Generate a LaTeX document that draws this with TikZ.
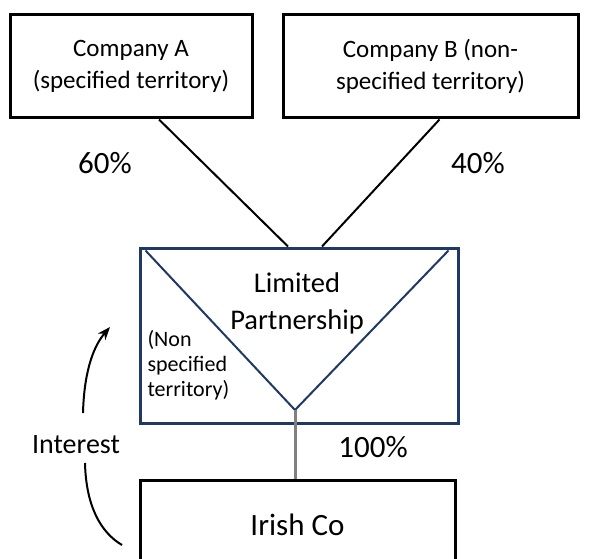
\documentclass[tikz,border=0pt]{standalone}
\usepackage{fontspec}
\setmainfont{Carlito}
\usetikzlibrary{arrows.meta}
\definecolor{lpnavy}{RGB}{31,56,100}
\begin{document}
\begin{tikzpicture}[x=1pt, y=-1pt,
    company/.style={draw=black, line width=3pt, align=center,
        font=\fontsize{25}{32}\selectfont, inner sep=0pt},
    pct/.style={font=\fontsize{31}{34}\selectfont},
    link/.style={draw=black, line width=2pt}]
                \useasboundingbox (0,0) rectangle (589,559);

                % Draw boxes
                \node[company, minimum width=242pt, minimum height=103pt] (compA) at (131,66.5)
                    {Company A\\(specified territory)};
                \node[company, minimum width=295pt, minimum height=103pt] (compB) at (430.5,66.5)
                    {Company B (non-\\specified territory)};
                \node[company, draw=lpnavy, minimum width=318pt, minimum height=175pt] (lp) at (299,335.5) {};
                \node[company, font=\fontsize{31}{34}\selectfont, minimum width=315pt, minimum height=88pt,
                    anchor=north] (irish) at (297.5,479) {Irish Co};

                % Triangle inside the partnership
                \coordinate (tl) at ([shift={(7,4)}]lp.north west);
                \coordinate (tr) at ([shift={(-11,4)}]lp.north east);
                \coordinate (tv) at (295,410);
                \draw[lpnavy, line width=2pt] (tl) -- (tv) -- (tr);

                % Ownership lines
                \draw[link] ([xshift=28pt]compA.south) -- ([xshift=-11pt]lp.north);
                \draw[link] ([xshift=9pt]compB.south) -- ([xshift=23pt]lp.north);
                \draw[gray, line width=3pt] (tv) -- (tv |- irish.north);

                % Texts
                \node[align=center, font=\fontsize{28.5}{37}\selectfont] (lptext) at (297,303)
                    {Limited\\Partnership};
                \node[align=left, anchor=west, font=\fontsize{22}{25}\selectfont] (nonspec) at (144,365)
                    {(Non\\specified\\territory)};
                \node[pct] (pctA) at (105,163) {60\%};
                \node[pct] (pctB) at (478,163) {40\%};
                \node[pct] (pctC) at (373,447) {100\%};
                \node[font=\fontsize{28}{30}\selectfont] (interest) at (76,445) {Interest};

                % Interest arrow
                \coordinate (arrA) at (83,413);
                \coordinate (arrB) at (110,327);
                \coordinate (arrC) at (85,463);
                \coordinate (arrD) at (122,545);
                \draw[line width=2pt, -{Stealth[length=13pt, width=10pt]}]
                    (arrA) .. controls (84,375) and (92,348) .. (arrB);
                \draw[line width=2pt] (arrC) .. controls (86,505) and (100,532) .. (arrD);
\end{tikzpicture}
\end{document}
